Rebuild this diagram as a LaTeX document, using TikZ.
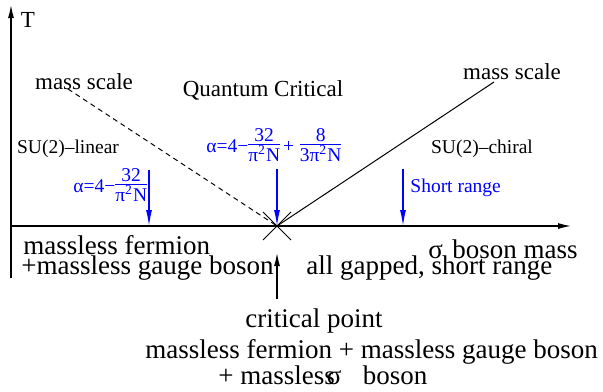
\documentclass[tikz,border=0pt]{standalone}
\usepackage{amsmath}
\usepackage{fontspec}
\setmainfont{Liberation Serif}
\usepackage{tikz}
\usetikzlibrary{arrows.meta,positioning}

\newcommand{\blfrac}[2]{$\vcenter{\offinterlineskip\halign{\hfil##\hfil\cr
    \rule[-1.5pt]{0pt}{8pt}#1\cr\noalign{\hrule height 0.4pt}
    \rule[-2pt]{0pt}{8pt}#2\cr}}$}

\begin{document}
\begin{tikzpicture}[x=0.5pt, y=-0.5pt,
        big/.style={inner sep=0pt, font=\fontsize{13.5}{15}\selectfont},
        mid/.style={inner sep=0pt, font=\fontsize{11.5}{13}\selectfont},
        small/.style={inner sep=0pt, font=\fontsize{9.75}{11}\selectfont},
        blu/.style={small, text=blue},
        axis/.style={line width=0.6pt, -{Latex[length=6.5pt,width=3pt]}},
        bluarrow/.style={blue, line width=0.6pt, -{Latex[length=8pt,width=3pt]}},
        thin line/.style={line width=0.5pt},
    ]
        \useasboundingbox (0,0) rectangle (603,391);

        \coordinate (O)    at (11,226);
        \coordinate (ybot) at (11,278);
        \coordinate (ytop) at (11,5);
        \coordinate (xend) at (571,226);
        \coordinate (crit) at (277,226);

        \draw[axis] (ybot) -- (ytop);
        \draw[axis] (O) -- (xend);

        \node[mid] (T)   at (28,20)  {T};
        \node[mid] (msl) at (84,82)  {mass scale};
        \node[mid] (qc)  at (263,90) {Quantum Critical};
        \node[mid] (msr) at (512,72) {mass scale};
        \node[small] (sul) at (68,149)  {SU(2)–linear};
        \node[small] (suc) at (482,149) {SU(2)–chiral};

        \node[blu, anchor=west] (alin) at (73,187)
            {α=4−\blfrac{32}{π\textsuperscript{2}N}};
        \node[blu, anchor=west] (aqc) at (206,147)
            {α=4−\blfrac{32}{π\textsuperscript{2}N}\hspace{0.15em}+\hspace{0.3em}\blfrac{8}{3π\textsuperscript{2}N}};
        \node[blu, anchor=west] (sr) at (410,188) {Short range};

        \coordinate (dl) at (68,89);
        \coordinate (dr) at (494,82);
        \draw[thin line, dashed, dash pattern=on 2.5pt off 2pt] (dl) -- (crit);
        \draw[thin line] (dr) -- (crit);

        \coordinate (xa) at (263,212);
        \coordinate (xb) at (291,240);
        \coordinate (xc) at (263,240);
        \coordinate (xd) at (291,212);
        \draw[thin line] (xa) -- (xb);
        \draw[thin line] (xc) -- (xd);

        \coordinate (lintop) at (149,170);
        \coordinate (linbot) at (149,226);
        \coordinate (qctop)  at (277,169);
        \coordinate (srtop)  at (403,169);
        \coordinate (srbot)  at (403,226);
        \draw[bluarrow] (lintop) -- (linbot);
        \draw[bluarrow] (qctop) -- (crit);
        \draw[bluarrow] (srtop) -- (srbot);

        \node[big, anchor=west] (mf)  at (23,245)  {massless fermion};
        \node[big, anchor=west] (mg)  at (21,268)  {+massless gauge boson};
        \node[big, anchor=west] (sbm) at (428,249) {σ\hspace{0.35em}boson mass};
        \node[big, anchor=west] (agp) at (306,268) {all gapped, short range};

        \coordinate (cpb) at (277,299);
        \coordinate (cpt) at (277,253);
        \draw[axis] (cpb) -- (cpt);

        \node[big] (cp) at (314,321) {critical point};
        \node[big, anchor=west] (mfg) at (145,352) {massless fermion + massless gauge boson};
        \node[big, anchor=west] (mls) at (218,375) {+ massless\hspace{-0.3em}σ\hspace{0.8em}boson};
    \end{tikzpicture}
\end{document}
